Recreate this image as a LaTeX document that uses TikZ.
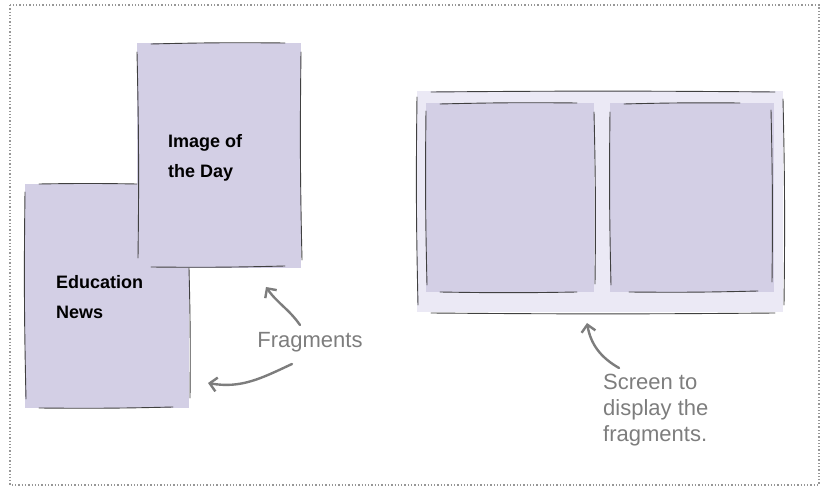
\documentclass[tikz,border=0pt]{standalone}
\usepackage{fontspec}
\setmainfont{Liberation Sans}
\usetikzlibrary{arrows.meta,positioning}
\definecolor{fragfill}{HTML}{D3CFE5}
\definecolor{screenfill}{HTML}{EBE9F5}
\definecolor{penGray}{HTML}{7D7D7D}

\begin{document}
\begin{tikzpicture}[
    x=1pt, y=-1pt,
    frag box/.style={fill=fragfill,draw=none,anchor=north west,inner sep=0pt},
    screen box/.style={fill=screenfill,draw=none,anchor=north west,inner sep=0pt},
    sketch/.style={draw=black!75,line width=0.9pt,line cap=round},
    box label/.style={font=\fontsize{18}{30}\selectfont\bfseries,align=left,anchor=north west,inner sep=0pt},
    note/.style={font=\fontsize{22}{26}\selectfont,text=penGray,align=left,inner sep=0pt},
    hand arrow/.style={draw=penGray,line width=2.4pt,line cap=round,
      -{Straight Barb[length=7pt,width=14pt,line width=2.4pt]}}
  ]
    \useasboundingbox (0,0) rectangle (823,486);
    % dotted frame
    \draw[penGray!80,line width=1.3pt,dotted] (10,5) rectangle (819,485);

    % Fragments
    \node[frag box,minimum width=164pt,minimum height=224pt] (news) at (25,184) {};
    \node[frag box,minimum width=164pt,minimum height=225pt] (img) at (137,43) {};
    \node[box label] (newstxt) at (56,275) {Education\\News};
    \node[box label] (imgtxt) at (168,134) {Image of\\the Day};

    % sketchy outlines of the fragments
    \draw[sketch] (39,184) to[bend left=1] (137,184);
    \draw[sketch] (25,192) to[bend right=1] (26,399);
    \draw[sketch] (189,268) to[bend left=1] (190,398);
    \draw[sketch] (39,408) to[bend right=1] (173,407);
    \draw[sketch] (151,44) to[bend left=1] (285,43);
    \draw[sketch] (137,52) to[bend left=1] (138,258);
    \draw[sketch] (301,52) to[bend right=1] (302,260);
    \draw[sketch] (151,267) to[bend right=1] (285,266);

    % Screen
    \node[screen box,minimum width=366pt,minimum height=221pt] (screen) at (417,91) {};
    \node[frag box,minimum width=168pt,minimum height=189pt] (left pane) at (426,103) {};
    \node[frag box,minimum width=164pt,minimum height=189pt] (right pane) at (610,103) {};

    \draw[sketch] (431,92) to[bend left=0.5] (775,92);
    \draw[sketch] (417,97) to[bend right=1] (418,305);
    \draw[sketch] (783,99) to[bend left=1] (784,305);
    \draw[sketch] (431,313) to[bend right=0.5] (775,313);
    \draw[sketch] (440,104) to[bend left=1] (577,103);
    \draw[sketch] (426,111) to[bend right=1] (427,285);
    \draw[sketch] (594,112) to[bend left=1] (595,284);
    \draw[sketch] (440,292) to[bend right=1] (577,292);
    \draw[sketch] (624,104) to[bend left=1] (740,103);
    \draw[sketch] (610,112) to[bend right=1] (611,285);
    \draw[sketch] (771,110) to[bend left=1] (772,282);
    \draw[sketch] (629,292) to[bend right=1] (758,291);

    % Notes and arrows
    \node[note] (fragnote) at (310,342) {Fragments};
    \coordinate (imgtip) at (266,287);
    \coordinate (newstip) at (208,383);
    \draw[hand arrow] (300,325) to[out=125,in=-55] (imgtip);
    \draw[hand arrow] (292,364) to[out=205,in=-10] (newstip);

    \node[note,anchor=north west] (screennote) at (603,374) {Screen to\\display the\\fragments.};
    \coordinate (screentip) at (587,323);
    \draw[hand arrow] (619,368) to[out=150,in=-80] (screentip);
\end{tikzpicture}
\end{document}
